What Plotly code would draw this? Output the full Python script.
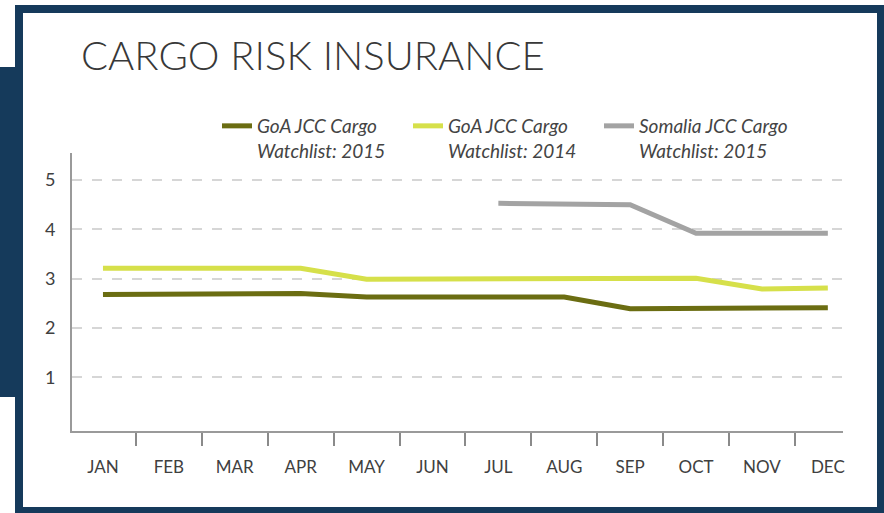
import plotly.graph_objects as go

months = ["JAN", "FEB", "MAR", "APR", "MAY", "JUN", "JUL", "AUG", "SEP", "OCT", "NOV", "DEC"]
goa_2015 = [2.68, 2.68, 2.69, 2.70, 2.63, 2.63, 2.63, 2.63, 2.39, 2.39, 2.40, 2.41]
goa_2014 = [3.21, 3.21, 3.21, 3.21, 2.99, 2.99, 3.00, 3.00, 3.00, 3.01, 2.79, 2.81]
somalia_2015 = [None, None, None, None, None, None, 4.53, 4.51, 4.50, 3.92, 3.92, 3.92]
series_names = ["GoA JCC Cargo<br>Watchlist: 2015", "GoA JCC Cargo<br>Watchlist: 2014",
                "Somalia JCC Cargo<br>Watchlist: 2015"]
y_ticks = [1, 2, 3, 4, 5]

W, H = 884, 513
L, R, T, B = 72, 843, 153, 431
NAVY = "#153a5b"


def px_x(p):
    return (p - L) / (R - L)


def px_y(p):
    return (B - p) / (B - T)


fig = go.Figure()
fig.add_trace(go.Scatter(x=months, y=goa_2015, mode="lines", name=series_names[0],
                         line=dict(color="#6b6d12", width=5)))
fig.add_trace(go.Scatter(x=months, y=goa_2014, mode="lines", name=series_names[1],
                         line=dict(color="#d6e04a", width=5)))
fig.add_trace(go.Scatter(x=months, y=somalia_2015, mode="lines", name=series_names[2],
                         line=dict(color="#a3a3a3", width=5), connectgaps=False))

shapes = [
    dict(type="rect", xref="paper", yref="paper", x0=px_x(15), x1=px_x(884), y0=px_y(5), y1=px_y(513),
         fillcolor=NAVY, line=dict(width=0), layer="below"),
    dict(type="rect", xref="paper", yref="paper", x0=px_x(23), x1=px_x(877), y0=px_y(13), y1=px_y(507),
         fillcolor="white", line=dict(width=0), layer="below"),
    dict(type="rect", xref="paper", yref="paper", x0=px_x(0), x1=px_x(23), y0=px_y(67), y1=px_y(397),
         fillcolor=NAVY, line=dict(width=0), layer="below"),
]

fig.update_layout(
    width=W, height=H,
    margin=dict(l=L, r=W - R, t=T, b=H - B, pad=0),
    paper_bgcolor="white",
    plot_bgcolor="rgba(0,0,0,0)",
    shapes=shapes,
    showlegend=True,
    hovermode=False,
    legend=dict(orientation="h", x=px_x(217), y=px_y(107), xanchor="left", yanchor="top",
                valign="top", entrywidth=146, entrywidthmode="pixels",
                font=dict(family="Lato", size=19, color="#444444", style="italic"),
                bgcolor="rgba(0,0,0,0)", traceorder="normal"),
    annotations=[dict(text="CARGO RISK INSURANCE", xref="paper", yref="paper",
                      x=px_x(79), y=px_y(55), xanchor="left", yanchor="middle", showarrow=False,
                      font=dict(family="Lato", size=40, color="#383838", weight=300))],
    xaxis=dict(type="category", categoryorder="array", categoryarray=months,
               range=[-0.47, 11.23], showline=True, linecolor="#9a9a9a", linewidth=2,
               showgrid=False, zeroline=False, ticks="outside", tickson="boundaries",
               ticklen=13, tickwidth=2, tickcolor="#8a8a8a", ticklabelstandoff=20,
               tickfont=dict(family="Lato", size=17, color="#404040"), fixedrange=True),
    yaxis=dict(range=[-0.09, 5.55], tickvals=y_ticks, showline=True, linecolor="#9a9a9a",
               linewidth=2, showgrid=True, gridcolor="#d6d6d6", gridwidth=1.5,
               griddash="10px,10px", zeroline=False, ticks="", ticklabelstandoff=11,
               tickfont=dict(family="Lato", size=18, color="#404040"), fixedrange=True),
)

fig.write_html("out.html", config={"displayModeBar": False},
               post_script="document.body.style.margin='0';document.body.style.overflow='hidden';")
